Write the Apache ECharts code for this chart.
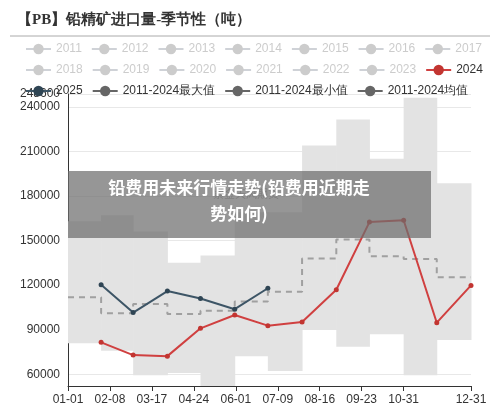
<!DOCTYPE html>
<html><head><meta charset="utf-8">
<script src="https://cdn.jsdelivr.net/npm/echarts@6/dist/echarts.min.js"></script>
<style>html,body{margin:0;padding:0;background:#fff}#c{width:500px;height:409px}</style>
</head><body><div id="c"></div>
<script>
const monthDays = [30,59,90,120,151,181,212,243,273,304,334,365];
const xTicks = [0,38,76,114,152,190,228,266,304,365];
const yTicks = [60000,90000,120000,150000,180000,210000,240000,248600];
const maxVals = [163000,167000,156000,135000,140000,169000,169000,214000,231500,205000,246000,188600];
const minVals = [80800,75800,59300,60900,52100,72200,62200,89800,78500,86900,59300,83000];
const avgVals = [111900,101100,107200,100600,102800,108900,115500,137900,150700,139400,137600,125200];
const s2024 = [81500,72900,72200,90900,99900,92700,95200,116900,162400,163600,94700,119800];
const s2025 = [120300,101500,116000,111000,103800,117900];
const oldYears = ['2011','2012','2013','2014','2015','2016','2017','2018','2019','2020','2021','2022','2023'];

function stepData(vals){
  const d=[[0,vals[0]]];
  for(let i=0;i<vals.length-1;i++) d.push([monthDays[i],vals[i+1]]);
  d.push([365,vals[vals.length-1]]);
  return d;
}
function fmtDay(v){
  const dt=new Date(Date.UTC(2024,0,1)+v*86400000);
  return String(dt.getUTCMonth()+1).padStart(2,'0')+'-'+String(dt.getUTCDate()).padStart(2,'0');
}
const bandData = monthDays.map((d,i)=>[i===0?0:monthDays[i-1], monthDays[i], minVals[i], maxVals[i]]);
const chart=echarts.init(document.getElementById('c'));
const selected={};
oldYears.forEach(y=>selected[y]=false);
const series=[];
oldYears.forEach(y=>series.push({name:y,type:'line',symbol:'circle',data:[],itemStyle:{color:'#ccc'}}));
series.push({name:'2024',type:'line',symbol:'circle',symbolSize:5,data:monthDays.map((d,i)=>[d,s2024[i]]),
  lineStyle:{color:'#d04040',width:2},itemStyle:{color:'#c23531'},z:3});
series.push({name:'2025',type:'line',symbol:'circle',symbolSize:5,data:s2025.map((v,i)=>[monthDays[i],v]),
  lineStyle:{color:'#3d5566',width:2},itemStyle:{color:'#2f4554'},z:3});
series.push({name:'band',type:'custom',z:1,
  data:bandData,encode:{x:[0,1],y:[2,3]},
  renderItem:function(params,api){
    const p1=api.coord([api.value(0),api.value(3)]);
    const p2=api.coord([api.value(1),api.value(2)]);
    return {type:'rect',shape:{x:p1[0],y:p1[1],width:p2[0]-p1[0]+0.5,height:p2[1]-p1[1]},
      style:{fill:'#e3e3e3'}};
  }});
series.push({name:'2011-2024最大值',type:'line',symbol:'circle',data:[],itemStyle:{color:'#666'},lineStyle:{color:'#666'}});
series.push({name:'2011-2024最小值',type:'line',symbol:'circle',data:[],itemStyle:{color:'#666'},lineStyle:{color:'#666'}});
series.push({name:'2011-2024均值',type:'line',step:'end',symbol:'circle',showSymbol:false,data:stepData(avgVals),
  lineStyle:{type:[6,5],color:'#a0a0a0',width:2},itemStyle:{color:'#666'},z:2});
chart.setOption({
  animation:false,
  title:{text:'【PB】铅精矿进口量-季节性（吨）',left:12,top:8,
    textStyle:{fontFamily:'serif',fontSize:15,fontWeight:'bold',color:'#333'}},
  legend:{top:38,left:20,right:5,itemGap:9,itemWidth:25,itemHeight:13,selected:selected,
    inactiveColor:'#ccc',textStyle:{fontSize:12,color:'#333'},
    data:[...oldYears,'2024','2025','2011-2024最大值','2011-2024最小值',
      {name:'2011-2024均值',lineStyle:{type:'solid',color:'#666'}}]},
  grid:{left:68,right:29,top:94,bottom:23},
  xAxis:{type:'value',min:0,max:365,
    axisLine:{lineStyle:{color:'#333'}},axisTick:{customValues:xTicks,lineStyle:{color:'#333'}},
    axisLabel:{customValues:xTicks,formatter:fmtDay,color:'#333',fontSize:12},splitLine:{show:false}},
  yAxis:{type:'value',min:52100,max:248600,
    axisLine:{show:true,lineStyle:{color:'#333'}},axisTick:{show:false,customValues:yTicks},
    axisLabel:{customValues:yTicks,formatter:v=>String(v),color:'#333',fontSize:12},
    splitLine:{show:true,lineStyle:{color:'#e8e8e8'}}},
  graphic:[
    {type:'line',shape:{x1:10,y1:36,x2:490,y2:36},style:{stroke:'#aaa',lineWidth:1}},
    {type:'text',left:213,top:188,z:50,style:{text:'紫金天风期货',fill:'rgba(100,100,100,0.5)',font:'11px "Noto Sans CJK SC"'}},
    {type:'rect',shape:{x:68,y:171,width:363,height:67},z:100,style:{fill:'rgba(110,110,110,0.72)'}},
    {type:'text',x:239,y:175,z:101,style:{text:'铅费用未来行情走势(铅费用近期走\n势如何)',align:'center',
      fill:'#fff',font:'bold 17px "Noto Sans CJK SC"',lineHeight:26}}
  ],
  series:series
});
</script></body></html>
